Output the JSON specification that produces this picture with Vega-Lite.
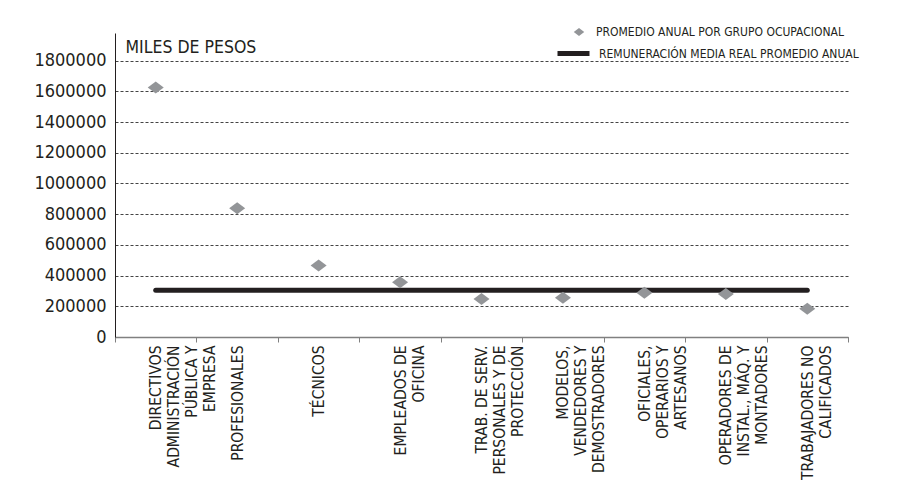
{
  "$schema": "https://vega.github.io/schema/vega-lite/v6.json",
  "width": 733,
  "height": 304,
  "autosize": {"type": "none"},
  "padding": {"left": 115, "top": 33, "right": 57, "bottom": 164},
  "background": "white",
  "title": {
    "text": "Remuneración media según grupo ocupacional (MILES DE PESOS)",
    "fontSize": 30,
    "font": "DejaVu Sans Condensed, Liberation Sans, sans-serif",
    "fontWeight": "bold",
    "color": "#231f20",
    "anchor": "middle",
    "frame": "group",
    "baseline": "alphabetic",
    "offset": 31
  },
  "config": {
    "view": {"stroke": null},
    "font": "DejaVu Sans Condensed, Liberation Sans, sans-serif",
    "axis": {"labelFont": "DejaVu Sans Condensed, Liberation Sans, sans-serif", "titleFont": "DejaVu Sans Condensed, Liberation Sans, sans-serif"},
    "legend": {"labelFont": "DejaVu Sans Condensed, Liberation Sans, sans-serif"}
  },
  "data": {
    "values": [
      {"grupo": "DIRECTIVOS|ADMINISTRACIÓN|PÚBLICA Y|EMPRESA", "promedio": 1625000, "media": 305000},
      {"grupo": "PROFESIONALES", "promedio": 838000, "media": 305000},
      {"grupo": "TÉCNICOS", "promedio": 465000, "media": 305000},
      {"grupo": "EMPLEADOS DE|OFICINA", "promedio": 357000, "media": 305000},
      {"grupo": "TRAB. DE SERV.|PERSONALES Y DE|PROTECCIÓN", "promedio": 248000, "media": 305000},
      {"grupo": "MODELOS,|VENDEDORES Y|DEMOSTRADORES", "promedio": 256000, "media": 305000},
      {"grupo": "OFICIALES,|OPERARIOS Y|ARTESANOS", "promedio": 289000, "media": 305000},
      {"grupo": "OPERADORES DE|INSTAL., MÁQ. Y|MONTADORES", "promedio": 280000, "media": 305000},
      {"grupo": "TRABAJADORES NO|CALIFICADOS", "promedio": 184000, "media": 305000}
    ]
  },
  "encoding": {
    "x": {
      "field": "grupo",
      "type": "nominal",
      "sort": null,
      "scale": {"type": "band", "paddingInner": 0, "paddingOuter": 0},
      "axis": {
        "title": null,
        "labelExpr": "datum.value ? split(datum.value, '|') : ''",
        "labelAngle": -90,
        "labelAlign": "right",
        "labelBaseline": "middle",
        "labelFontSize": 15.5,
        "labelLineHeight": 18,
        "labelColor": "#231f20",
        "labelPadding": 3,
        "labelLimit": 300,
        "labelOverlap": false,
        "tickBand": "extent",
        "tickSize": 5,
        "tickColor": "#808080",
        "domainColor": "#808080",
        "domainWidth": 1.5,
        "grid": false
      }
    }
  },
  "layer": [
    {
      "mark": {"type": "line", "strokeWidth": 5, "strokeCap": "round", "color": "#231f20"},
      "encoding": {
        "y": {
          "field": "media",
          "type": "quantitative",
          "scale": {"domain": [0, 1980000], "nice": false},
          "axis": {
            "title": "MILES DE PESOS",
            "titleAngle": 0,
            "titleAlign": "left",
            "titleBaseline": "middle",
            "titleX": 10,
            "titleY": 14,
            "titleFontSize": 17.5,
            "titleFontWeight": "normal",
            "titleColor": "#231f20",
            "values": [0, 200000, 400000, 600000, 800000, 1000000, 1200000, 1400000, 1600000, 1800000],
            "format": "d",
            "labelFontSize": 18,
            "labelColor": "#231f20",
            "labelPadding": 9,
            "labelOverlap": false,
            "ticks": false,
            "tickSize": 0,
            "domainColor": "#231f20",
            "domainWidth": 1,
            "grid": true,
            "gridColor": "#444444",
            "gridDash": [3, 2],
            "gridWidth": 1
          }
        },
        "color": {
          "datum": "REMUNERACIÓN MEDIA REAL PROMEDIO ANUAL",
          "type": "nominal",
          "scale": {"range": ["#231f20"]},
          "legend": {
            "title": null,
            "orient": "none",
            "legendX": 440,
            "legendY": 2,
            "symbolType": "stroke",
            "symbolSize": 1024,
            "symbolStrokeWidth": 5,
            "symbolStrokeColor": "#231f20",
            "labelFontSize": 12,
            "labelColor": "#231f20",
            "labelOffset": 7,
            "padding": 0,
            "labelLimit": 400
          }
        }
      }
    },
    {
      "mark": {"type": "point", "filled": true, "color": "#939598", "opacity": 1, "size": 256},
      "encoding": {
        "y": {
          "field": "promedio",
          "type": "quantitative",
          "scale": {"domain": [0, 1980000], "nice": false},
          "axis": {
            "title": "MILES DE PESOS",
            "titleAngle": 0,
            "titleAlign": "left",
            "titleBaseline": "middle",
            "titleX": 10,
            "titleY": 14,
            "titleFontSize": 17.5,
            "titleFontWeight": "normal",
            "titleColor": "#231f20",
            "values": [0, 200000, 400000, 600000, 800000, 1000000, 1200000, 1400000, 1600000, 1800000],
            "format": "d",
            "labelFontSize": 18,
            "labelColor": "#231f20",
            "labelPadding": 9,
            "labelOverlap": false,
            "ticks": false,
            "tickSize": 0,
            "domainColor": "#231f20",
            "domainWidth": 1,
            "grid": true,
            "gridColor": "#444444",
            "gridDash": [3, 2],
            "gridWidth": 1
          }
        },
        "shape": {
          "datum": "PROMEDIO ANUAL POR GRUPO OCUPACIONAL",
          "type": "nominal",
          "scale": {"range": ["M-1,0L0,-0.75L1,0L0,0.75Z"]},
          "legend": {
            "title": null,
            "orient": "none",
            "legendX": 458,
            "legendY": -7,
            "symbolSize": 110,
            "symbolFillColor": "#939598",
            "symbolStrokeWidth": 0,
            "labelFontSize": 12,
            "labelColor": "#231f20",
            "labelOffset": 11,
            "padding": 0,
            "labelLimit": 400
          }
        }
      }
    }
  ]
}
